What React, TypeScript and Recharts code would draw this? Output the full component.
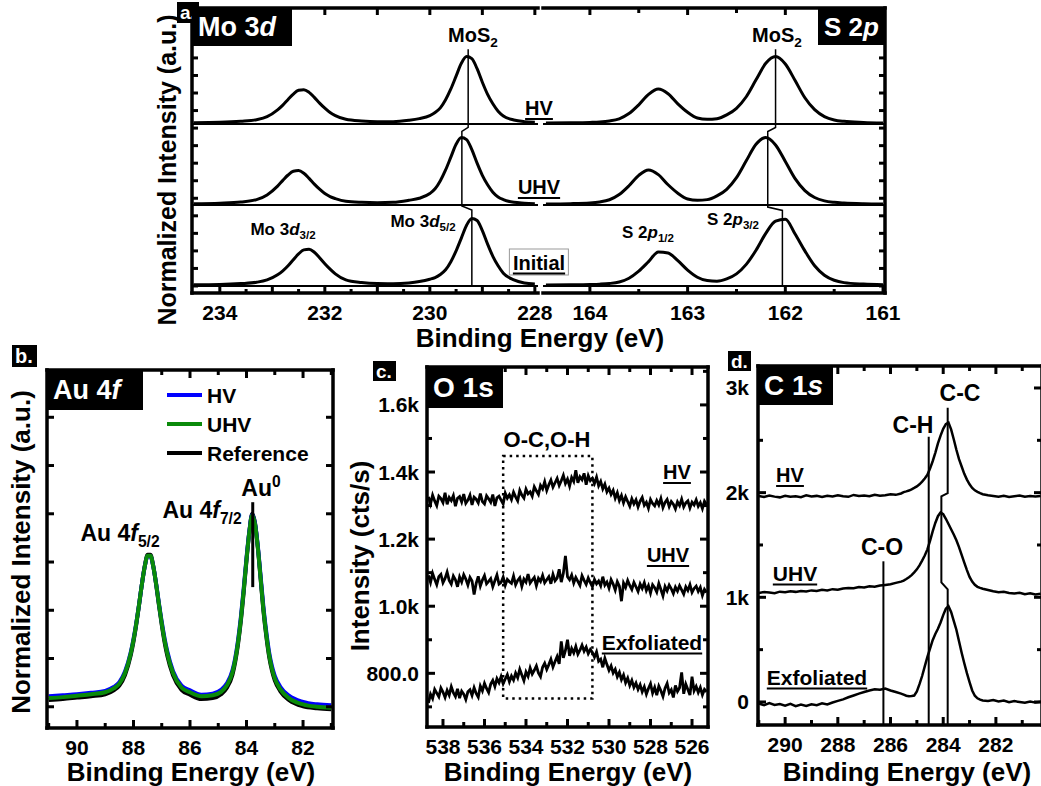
import React from 'react';
import { LineChart, Line, XAxis, YAxis, ReferenceLine, ReferenceArea } from 'recharts';

const FONT = '"Liberation Sans", Arial, Helvetica, sans-serif';

// ---------------- Panel a: Mo 3d ----------------
const moE = [234.5, 234.0, 233.6, 233.3, 233.1, 232.9, 232.8, 232.7, 232.6, 232.5, 232.4, 232.3, 232.2, 232.1, 232.0, 231.9, 231.8, 231.6, 231.3, 231.0, 230.7, 230.4, 230.2, 230.0, 229.9, 229.8, 229.7, 229.6, 229.5, 229.4, 229.3, 229.2, 229.1, 229.0, 228.9, 228.8, 228.7, 228.6, 228.4, 228.2, 228.0];
const moHV = [0.02, 0.025, 0.04, 0.065, 0.11, 0.21, 0.28, 0.365, 0.445, 0.5, 0.51, 0.47, 0.395, 0.31, 0.235, 0.17, 0.125, 0.07, 0.045, 0.035, 0.035, 0.055, 0.08, 0.125, 0.17, 0.24, 0.36, 0.52, 0.71, 0.9, 1.0, 0.97, 0.82, 0.62, 0.44, 0.3, 0.19, 0.12, 0.06, 0.035, 0.025];
const moUHV = [0.02, 0.028, 0.045, 0.08, 0.15, 0.28, 0.365, 0.445, 0.5, 0.51, 0.47, 0.395, 0.31, 0.235, 0.17, 0.125, 0.095, 0.055, 0.04, 0.035, 0.04, 0.07, 0.1, 0.17, 0.24, 0.36, 0.52, 0.71, 0.9, 1.0, 0.97, 0.82, 0.62, 0.44, 0.3, 0.19, 0.12, 0.08, 0.04, 0.028, 0.02];
const moInit = [0.018, 0.022, 0.035, 0.055, 0.09, 0.165, 0.225, 0.3, 0.39, 0.475, 0.535, 0.545, 0.5, 0.42, 0.33, 0.25, 0.18, 0.09, 0.05, 0.035, 0.033, 0.045, 0.065, 0.1, 0.125, 0.17, 0.24, 0.36, 0.52, 0.71, 0.9, 1.0, 0.97, 0.82, 0.62, 0.44, 0.3, 0.19, 0.09, 0.045, 0.03];
const moStepE = [229.27, 229.27, 229.39, 229.39, 229.2, 229.2];
const moStepY = [3.51, 2.35, 2.29, 1.185, 1.126, -0.01];

// ---------------- Panel a: S 2p ----------------
const sE = [164.45, 164.2, 164.0, 163.9, 163.8, 163.7, 163.6, 163.5, 163.4, 163.3, 163.2, 163.1, 163.0, 162.9, 162.8, 162.7, 162.6, 162.5, 162.4, 162.3, 162.2, 162.1, 162.0, 161.9, 161.8, 161.7, 161.6, 161.5, 161.4, 161.2, 161.0];
const sHV = [0.015, 0.018, 0.024, 0.03, 0.045, 0.078, 0.155, 0.285, 0.44, 0.52, 0.45, 0.3, 0.175, 0.09, 0.07, 0.08, 0.135, 0.233, 0.405, 0.655, 0.9, 1.0, 0.89, 0.645, 0.39, 0.213, 0.111, 0.061, 0.04, 0.024, 0.016];
const sUHV = [0.016, 0.02, 0.03, 0.045, 0.078, 0.155, 0.285, 0.44, 0.52, 0.45, 0.3, 0.175, 0.09, 0.07, 0.08, 0.135, 0.233, 0.405, 0.655, 0.9, 1.0, 0.89, 0.645, 0.39, 0.213, 0.111, 0.061, 0.04, 0.03, 0.02, 0.016];
const sInit = [0.014, 0.017, 0.022, 0.027, 0.037, 0.06, 0.115, 0.22, 0.36, 0.505, 0.49, 0.375, 0.235, 0.13, 0.08, 0.07, 0.105, 0.18, 0.32, 0.53, 0.78, 0.96, 0.99, 0.77, 0.52, 0.3, 0.16, 0.085, 0.05, 0.028, 0.018];
const sStepE = [162.1, 162.1, 162.18, 162.18, 162.03, 162.03];
const sStepY = [3.51, 2.35, 2.29, 1.17, 1.12, -0.01];

// stacking offsets (normalized units) for HV / UHV / Initial
const offHV = 2.4;
const offUHV = 1.2;
const offInit = 0;

const moXTicks = [228, 228.5, 229, 229.5, 230, 230.5, 231, 231.5, 232, 232.5, 233, 233.5, 234];
const sXTicks = [161, 161.5, 162, 162.5, 163, 163.5, 164];
const aYTicks = [0, 0.26, 0.52, 0.78, 1.04, 1.3, 1.56, 1.82, 2.08, 2.34, 2.6, 2.86, 3.12, 3.38, 3.64, 3.9];

// ---------------- Panel b: Au 4f ----------------
const auE = [91.0, 90.5, 90.0, 89.5, 89.0, 88.7, 88.5, 88.3, 88.1, 88.0, 87.9, 87.8, 87.7, 87.6, 87.5, 87.4, 87.3, 87.2, 87.1, 87.0, 86.9, 86.8, 86.6, 86.3, 86.0, 85.6, 85.2, 84.9, 84.7, 84.5, 84.4, 84.3, 84.2, 84.1, 84.0, 83.9, 83.8, 83.7, 83.6, 83.5, 83.4, 83.3, 83.2, 83.1, 83.0, 82.8, 82.5, 82.0, 81.5, 81.0];
const auHV = [0.66, 0.68, 0.7, 0.73, 0.77, 0.85, 0.95, 1.17, 1.56, 1.84, 2.18, 2.57, 2.99, 3.35, 3.56, 3.56, 3.35, 3.0, 2.59, 2.2, 1.86, 1.58, 1.18, 0.88, 0.78, 0.69, 0.71, 0.79, 0.92, 1.19, 1.45, 1.82, 2.3, 2.89, 3.53, 4.08, 4.42, 4.24, 3.77, 3.14, 2.5, 1.99, 1.57, 1.28, 1.08, 0.85, 0.67, 0.54, 0.49, 0.47];
const auUHV = [0.62, 0.64, 0.67, 0.7, 0.74, 0.82, 0.92, 1.14, 1.54, 1.82, 2.17, 2.57, 2.99, 3.35, 3.57, 3.57, 3.35, 2.99, 2.57, 2.17, 1.82, 1.54, 1.14, 0.84, 0.74, 0.66, 0.68, 0.75, 0.88, 1.15, 1.41, 1.78, 2.26, 2.85, 3.5, 4.06, 4.41, 4.22, 3.74, 3.1, 2.45, 1.94, 1.52, 1.23, 1.03, 0.8, 0.62, 0.49, 0.44, 0.42];
const auRef = [0.58, 0.6, 0.63, 0.66, 0.7, 0.78, 0.88, 1.1, 1.5, 1.79, 2.15, 2.56, 2.99, 3.36, 3.59, 3.59, 3.36, 2.98, 2.55, 2.14, 1.78, 1.49, 1.09, 0.79, 0.69, 0.6, 0.62, 0.7, 0.83, 1.1, 1.37, 1.74, 2.22, 2.82, 3.48, 4.06, 4.44, 4.25, 3.74, 3.08, 2.42, 1.9, 1.48, 1.19, 0.99, 0.76, 0.58, 0.45, 0.41, 0.39];
const auMarkE = [83.78, 83.78];
const auMarkY = [4.68, 2.92];
const auXTicks = [81, 82, 83, 84, 85, 86, 87, 88, 89, 90, 91];
const auYTicks = [0.44, 1.44, 2.44, 3.44, 4.44, 5.44, 6.44];

// ---------------- Panel c: O 1s ----------------
const oE = [
  538.7, 538.6, 538.5, 538.4, 538.3, 538.2, 538.1, 538.0, 537.9, 537.8,
  537.7, 537.6, 537.5, 537.4, 537.3, 537.2, 537.1, 537.0, 536.9, 536.8,
  536.7, 536.6, 536.5, 536.4, 536.3, 536.2, 536.1, 536.0, 535.9, 535.8,
  535.7, 535.6, 535.5, 535.4, 535.3, 535.2, 535.1, 535.0, 534.9, 534.8,
  534.7, 534.6, 534.5, 534.4, 534.3, 534.2, 534.1, 534.0, 533.9, 533.8,
  533.7, 533.6, 533.5, 533.4, 533.3, 533.2, 533.1, 533.0, 532.9, 532.8,
  532.7, 532.6, 532.5, 532.4, 532.3, 532.2, 532.1, 532.0, 531.9, 531.8,
  531.7, 531.6, 531.5, 531.4, 531.3, 531.2, 531.1, 531.0, 530.9, 530.8,
  530.7, 530.6, 530.5, 530.4, 530.3, 530.2, 530.1, 530.0, 529.9, 529.8,
  529.7, 529.6, 529.5, 529.4, 529.3, 529.2, 529.1, 529.0, 528.9, 528.8,
  528.7, 528.6, 528.5, 528.4, 528.3, 528.2, 528.1, 528.0, 527.9, 527.8,
  527.7, 527.6, 527.5, 527.4, 527.3, 527.2, 527.1, 527.0, 526.9, 526.8,
  526.7, 526.6, 526.5, 526.4, 526.3, 526.2, 526.1, 526.0, 525.9, 525.8,
  525.7, 525.6, 525.5, 525.4, 525.3,
];
const oHV = [
  1326, 1305, 1331, 1314, 1300, 1328, 1321, 1309, 1338, 1304,
  1324, 1315, 1330, 1298, 1322, 1327, 1311, 1334, 1307, 1316,
  1331, 1302, 1325, 1319, 1308, 1336, 1312, 1305, 1329, 1320,
  1310, 1333, 1299, 1323, 1328, 1316, 1305, 1337, 1322, 1332,
  1318, 1340, 1326, 1314, 1345, 1331, 1322, 1349, 1335, 1341,
  1328, 1356, 1344, 1333, 1360, 1350, 1371, 1345, 1362, 1376,
  1355, 1368, 1381, 1360, 1374, 1390, 1366, 1379, 1358, 1384,
  1372, 1405, 1368, 1386, 1377, 1396, 1362, 1389, 1374, 1381,
  1366, 1385, 1359, 1372, 1350, 1364, 1341, 1352, 1333, 1345,
  1322, 1338, 1315, 1330, 1308, 1326, 1312, 1298, 1320, 1305,
  1317, 1296, 1313, 1324, 1301, 1310, 1292, 1318, 1306, 1299,
  1315, 1302, 1321, 1294, 1309, 1318, 1297, 1312, 1304, 1290,
  1311, 1300, 1319, 1296, 1308, 1314, 1293, 1310, 1302, 1317,
  1298, 1309, 1291, 1313, 1303,
];
const oUHV = [
  1092, 1071, 1098, 1080, 1064, 1088, 1095, 1070, 1083, 1102,
  1077, 1066, 1090, 1079, 1058, 1087, 1072, 1094, 1081, 1063,
  1086, 1075, 1035, 1068, 1089, 1060, 1078, 1091, 1067, 1074,
  1082, 1058, 1076, 1093, 1066, 1071, 1087, 1062, 1080, 1073,
  1068, 1090, 1064, 1077, 1085, 1059, 1081, 1072, 1096, 1069,
  1078, 1086, 1061, 1083, 1074, 1092, 1070, 1079, 1088, 1067,
  1095, 1076, 1084, 1110, 1072, 1098, 1150, 1088, 1079, 1093,
  1069, 1086, 1074, 1062, 1091, 1077, 1065, 1084, 1070, 1058,
  1080, 1067, 1075, 1061, 1088, 1063, 1072, 1054, 1079, 1066,
  1048, 1073, 1060, 1015, 1069, 1056, 1077, 1062, 1050, 1071,
  1058, 1044, 1066, 1053, 1070, 1047, 1061, 1039, 1064, 1055,
  1042, 1068, 1050, 1031, 1059, 1046, 1063, 1052, 1038, 1057,
  1045, 1061, 1049, 1036, 1058, 1047, 1064, 1041, 1053, 1060,
  1044, 1056, 1032, 1050, 1041,
];
const oExf = [
  712, 738, 725, 752, 741, 730, 756, 744, 728, 749,
  735, 760, 742, 731, 754, 726, 747, 738, 722, 745,
  751, 734, 757, 740, 729, 762, 748, 770, 755, 743,
  768, 779, 761, 784, 772, 790, 769, 783, 796, 775,
  792, 780, 801, 787, 812, 795, 778, 804, 791, 816,
  798, 809, 822, 801, 790, 818, 830, 812, 826, 842,
  819, 835, 850, 828, 895, 846, 868, 900, 852, 874,
  861, 880, 857, 869, 884, 866, 878, 859, 871, 862,
  848, 864, 836, 842, 818, 845, 826, 809, 822, 801,
  812, 790, 803, 781, 795, 772, 786, 764, 779, 758,
  771, 752, 766, 745, 760, 738, 755, 769, 741, 758,
  735, 762, 748, 731, 756, 770, 742, 751, 728, 764,
  746, 757, 803, 739, 768, 752, 735, 790, 748, 761,
  743, 758, 736, 752, 745,
];
const oBoxE = [535.1, 530.8];
const oBoxY = [725, 1448];
const oXTicks = [526, 527, 528, 529, 530, 531, 532, 533, 534, 535, 536, 537, 538];
const oYTicks = [700, 800, 900, 1000, 1100, 1200, 1300, 1400, 1500, 1600, 1700];
const oYLabels: Record<number, string> = { 800: '800.0', 1000: '1.0k', 1200: '1.2k', 1400: '1.4k', 1600: '1.6k' };

// ---------------- Panel d: C 1s ----------------
const cE = [
  291.0, 290.8, 290.6, 290.4, 290.2, 290.0, 289.8, 289.6, 289.4, 289.2, 289.0, 288.8, 288.6, 288.4, 288.2, 288.0, 287.8, 287.6, 287.4, 287.2, 287.0, 286.8, 286.6, 286.4, 286.2, 286.0, 285.8, 285.6,
  285.5, 285.4, 285.3, 285.2, 285.1, 285.0, 284.9, 284.8, 284.7, 284.6, 284.5, 284.4, 284.3, 284.2, 284.1, 284.0, 283.9, 283.8, 283.7, 283.6, 283.5, 283.4, 283.3, 283.2, 283.1, 283.0, 282.9, 282.8, 282.7, 282.6, 282.5,
  282.3, 282.1, 281.9, 281.7, 281.5, 281.3, 281.1, 280.9, 280.7, 280.5, 280.3,
];
const cHV = [
  1968, 1958, 1972, 1962, 1955, 1970, 1961, 1966, 1957, 1974, 1963, 1969, 1958, 1971, 1964, 1975, 1966, 1960, 1978, 1968, 1973, 1965, 1980, 1971, 1976, 1985, 1979, 1992,
  2005, 2012, 2020, 2032, 2045, 2060, 2080, 2105, 2135, 2170, 2230, 2300, 2380, 2470, 2545, 2610, 2655, 2670, 2605, 2510, 2410, 2320, 2250, 2180, 2125, 2080, 2045, 2022, 2008, 1995, 1985,
  1975, 1968, 1961, 1970, 1959, 1966, 1972, 1960, 1967, 1963, 1969,
];
const cUHV = [
  1042, 1050, 1046, 1040, 1054, 1049, 1058, 1052, 1061, 1055, 1066, 1060, 1071, 1066, 1078, 1072, 1084, 1090, 1086, 1098, 1094, 1105, 1101, 1112, 1118, 1125, 1138, 1150,
  1160, 1175, 1192, 1212, 1238, 1267, 1305, 1350, 1400, 1458, 1540, 1630, 1710, 1775, 1810, 1795, 1750, 1700, 1650, 1600, 1545, 1480, 1405, 1331, 1260, 1195, 1150, 1120, 1100, 1090, 1082,
  1070, 1058, 1048, 1052, 1041, 1036, 1044, 1030, 1038, 1027, 1033,
];
const cExf = [
  -15, -30, -10, -28, -20, -35, -18, -40, -25, -38, -22, -30, -12, -24, -5, 10, 25, 45, 62, 80, 95, 110, 122, 118, 128, 110, 95, 80,
  70, 60, 55, 58, 62, 100, 170, 248, 340, 430, 510, 590, 650, 700, 760, 830, 890, 915, 860, 775, 690, 580, 470, 370, 275, 190, 110, 60, 35, 22, 15,
  10, 18, 5, 14, -2, 8, 0, -8, 4, -6, 2,
];
const ccE = [283.83, 283.83, 284.07, 284.07, 283.83, 283.83];
const ccY = [2812, 1995, 1965, 1143, 1076, -220];
const chE = [284.55, 284.55];
const chY = [2535, -220];
const coE = [286.27, 286.27];
const coY = [1344, -220];
const cXTicks = [281, 282, 283, 284, 285, 286, 287, 288, 289, 290, 291];
const cYTicks = [0, 500, 1000, 1500, 2000, 2500, 3000];
const cYLabels: Record<number, string> = { 0: '0', 1000: '1k', 2000: '2k', 3000: '3k' };

// ---------------- helpers ----------------
type P = { x: number; y: number };
function toPts(xs: number[], ys: number[], off: number = 0): P[] {
  return xs.map((x, i) => ({ x, y: ys[i] + off }));
}
const isInt = (v: number) => Math.abs(v - Math.round(v)) < 1e-6;
const isEven = (v: number) => isInt(v) && Math.round(v) % 2 === 0;
const always = () => true;

interface TickOpt {
  side: 'bottom' | 'top' | 'left' | 'right';
  major: (v: number) => boolean;
  label?: (v: number) => string;
  majorLen?: number;
  minorLen?: number;
  gap?: number;
  fontSize?: number;
}
function mkTick(o: TickOpt) {
  return (p: any) => {
    const x = Number(p.x);
    const y = Number(p.y);
    const v = Number(p.payload && p.payload.value);
    const len = o.major(v) ? (o.majorLen ?? 7) : (o.minorLen ?? 4);
    let x2 = x;
    let y2 = y;
    if (o.side === 'bottom') y2 = y - len;
    else if (o.side === 'top') y2 = y + len;
    else if (o.side === 'left') x2 = x + len;
    else x2 = x - len;
    const lab = o.label ? o.label(v) : '';
    const fs = o.fontSize ?? 21;
    const gap = o.gap ?? 19;
    return (
      <g>
        <line x1={x} y1={y} x2={x2} y2={y2} stroke="#000" strokeWidth={3} />
        {lab && o.side === 'bottom' ? (
          <text x={x} y={y + gap} textAnchor="middle" dominantBaseline="central" fontFamily={FONT} fontWeight={700} fontSize={fs} fill="#000">{lab}</text>
        ) : null}
        {lab && o.side === 'left' ? (
          <text x={x - gap} y={y} textAnchor="end" dominantBaseline="central" fontFamily={FONT} fontWeight={700} fontSize={fs} fill="#000">{lab}</text>
        ) : null}
      </g>
    );
  };
}

const AX = { stroke: '#000', strokeWidth: 3.5, strokeLinecap: 'square' as const };

function Plot({ x, y, w, h, l, r, t, b, ml = 0, mr = 0, children }: any) {
  const W = w + l + r + ml + mr;
  const H = h + t + b;
  return (
    <div style={{ position: 'absolute', left: x - l - ml, top: y - t, width: W, height: H }}>
      <LineChart width={W} height={H} margin={{ top: 0, right: mr, bottom: 0, left: ml }}>
        {children}
      </LineChart>
    </div>
  );
}

function T({ x, y, s = 20, u = false, rot = false, children, style }: any) {
  return (
    <div
      style={{
        position: 'absolute', left: x, top: y,
        transform: `translate(-50%, -50%)${rot ? ' rotate(-90deg)' : ''}`,
        fontFamily: FONT, fontWeight: 700, fontSize: s, lineHeight: 1, whiteSpace: 'nowrap', color: '#000',
        textDecoration: u ? 'underline' : undefined,
        textDecorationThickness: u ? '2px' : undefined,
        textUnderlineOffset: u ? '3px' : undefined,
        ...style,
      }}
    >
      {children}
    </div>
  );
}

function BoxT({ x, y, w, h, s = 27, pad = 6, children }: any) {
  return (
    <div style={{ position: 'absolute', left: x, top: y, width: w, height: h, background: '#000', color: '#fff', fontFamily: FONT, fontWeight: 700, fontSize: s, lineHeight: 1, display: 'flex', alignItems: 'center', paddingLeft: pad, boxSizing: 'border-box', whiteSpace: 'nowrap' }}>
      {children}
    </div>
  );
}

const Sub = ({ children }: any) => <span style={{ fontSize: '0.68em', verticalAlign: '-0.35em' }}>{children}</span>;
const Sup = ({ children }: any) => <span style={{ fontSize: '0.68em', verticalAlign: '0.6em' }}>{children}</span>;

const lineProps = { dot: false, activeDot: false, isAnimationActive: false, dataKey: 'y' } as const;

export default function App() {
  return (
    <div style={{ position: 'absolute', left: 0, top: 0, width: 1041, height: 786, overflow: 'hidden', background: '#fff', fontFamily: FONT }}>
      {/* ---- Panel a, left (Mo 3d) ---- */}
      <Plot x={192} y={8} w={346} h={285} l={30} r={0} mr={30} t={10} b={45}>
        <XAxis xAxisId={0} type="number" dataKey="x" domain={[227.94, 234.53]} reversed allowDataOverflow ticks={moXTicks} interval={0} tickLine={false} tickSize={0} tickMargin={0} axisLine={AX} height={45}
          tick={mkTick({ side: 'bottom', major: isInt, label: (v) => (isEven(v) ? String(v) : ''), majorLen: 7, minorLen: 4 })} />
        <XAxis xAxisId="t" orientation="top" type="number" dataKey="x" domain={[227.94, 234.53]} reversed allowDataOverflow ticks={moXTicks} interval={0} tickLine={false} tickSize={0} tickMargin={0} axisLine={AX} height={10}
          tick={mkTick({ side: 'top', major: isInt, majorLen: 7, minorLen: 0 })} />
        <YAxis yAxisId={0} type="number" domain={[-0.104, 4.12]} allowDataOverflow ticks={aYTicks} interval={0} tickLine={false} tickSize={0} tickMargin={0} axisLine={AX} width={30}
          tick={mkTick({ side: 'left', major: always, majorLen: 6 })} />
        <ReferenceLine y={offHV} stroke="#000" strokeWidth={2} />
        <ReferenceLine y={offUHV} stroke="#000" strokeWidth={2} />
        <ReferenceLine y={offInit} stroke="#000" strokeWidth={2} />
        <Line {...lineProps} data={toPts(moE, moHV, offHV)} type="monotone" stroke="#000" strokeWidth={3} />
        <Line {...lineProps} data={toPts(moE, moUHV, offUHV)} type="monotone" stroke="#000" strokeWidth={3} />
        <Line {...lineProps} data={toPts(moE, moInit, offInit)} type="monotone" stroke="#000" strokeWidth={3} />
        <Line {...lineProps} data={toPts(moStepE, moStepY)} type="linear" stroke="#000" strokeWidth={1.5} />
      </Plot>

      {/* ---- Panel a, right (S 2p) ---- */}
      <Plot x={543} y={8} w={342} h={285} l={0} ml={30} r={20} t={10} b={45}>
        <XAxis xAxisId={0} type="number" dataKey="x" domain={[160.98, 164.48]} reversed allowDataOverflow ticks={sXTicks} interval={0} tickLine={false} tickSize={0} tickMargin={0} axisLine={AX} height={45}
          tick={mkTick({ side: 'bottom', major: isInt, label: (v) => (isInt(v) ? String(v) : ''), majorLen: 7, minorLen: 4 })} />
        <XAxis xAxisId="t" orientation="top" type="number" dataKey="x" domain={[160.98, 164.48]} reversed allowDataOverflow ticks={sXTicks} interval={0} tickLine={false} tickSize={0} tickMargin={0} axisLine={AX} height={10}
          tick={mkTick({ side: 'top', major: isInt, majorLen: 7, minorLen: 5 })} />
        <YAxis yAxisId={0} orientation="right" type="number" domain={[-0.104, 4.12]} allowDataOverflow ticks={aYTicks} interval={0} tickLine={false} tickSize={0} tickMargin={0} axisLine={AX} width={20}
          tick={mkTick({ side: 'right', major: always, majorLen: 6 })} />
        <ReferenceLine y={offHV} stroke="#000" strokeWidth={2} />
        <ReferenceLine y={offUHV} stroke="#000" strokeWidth={2} />
        <ReferenceLine y={offInit} stroke="#000" strokeWidth={2} />
        <Line {...lineProps} data={toPts(sE, sHV, offHV)} type="monotone" stroke="#000" strokeWidth={3} />
        <Line {...lineProps} data={toPts(sE, sUHV, offUHV)} type="monotone" stroke="#000" strokeWidth={3} />
        <Line {...lineProps} data={toPts(sE, sInit, offInit)} type="monotone" stroke="#000" strokeWidth={3} />
        <Line {...lineProps} data={toPts(sStepE, sStepY)} type="linear" stroke="#000" strokeWidth={1.5} />
      </Plot>

      {/* ---- Panel b (Au 4f) ---- */}
      <Plot x={47} y={370} w={286} h={358} l={10} r={10} t={10} b={50}>
        <XAxis xAxisId={0} type="number" dataKey="x" domain={[80.94, 91.06]} reversed allowDataOverflow ticks={auXTicks} interval={0} tickLine={false} tickSize={0} tickMargin={0} axisLine={AX} height={50}
          tick={mkTick({ side: 'bottom', major: isEven, label: (v) => (isEven(v) && v > 81 && v < 91 ? String(v) : ''), majorLen: 8, minorLen: 5 })} />
        <XAxis xAxisId="t" orientation="top" type="number" dataKey="x" domain={[80.94, 91.06]} reversed allowDataOverflow ticks={auXTicks} interval={0} tickLine={false} tickSize={0} tickMargin={0} axisLine={AX} height={10}
          tick={mkTick({ side: 'top', major: isEven, majorLen: 8, minorLen: 5 })} />
        <YAxis yAxisId={0} type="number" domain={[0, 7.42]} allowDataOverflow ticks={auYTicks} interval={0} tickLine={false} tickSize={0} tickMargin={0} axisLine={AX} width={10}
          tick={mkTick({ side: 'left', major: always, majorLen: 7 })} />
        <YAxis yAxisId="r" orientation="right" type="number" domain={[0, 7.42]} allowDataOverflow ticks={auYTicks} interval={0} tickLine={false} tickSize={0} tickMargin={0} axisLine={AX} width={10}
          tick={mkTick({ side: 'right', major: always, majorLen: 7 })} />
        <Line {...lineProps} data={toPts(auE, auRef)} type="monotone" stroke="#000" strokeWidth={4} />
        <Line {...lineProps} data={toPts(auE, auHV)} type="monotone" stroke="#0000ff" strokeWidth={4} />
        <Line {...lineProps} data={toPts(auE, auUHV)} type="monotone" stroke="#0a8a0a" strokeWidth={4} />
        <Line {...lineProps} data={toPts(auMarkE, auMarkY)} type="linear" stroke="#000" strokeWidth={3} />
      </Plot>

      {/* ---- Panel c (O 1s) ---- */}
      <Plot x={427} y={367} w={281} h={360} l={80} r={10} t={10} b={50}>
        <XAxis xAxisId={0} type="number" dataKey="x" domain={[525.23, 538.77]} reversed allowDataOverflow ticks={oXTicks} interval={0} tickLine={false} tickSize={0} tickMargin={0} axisLine={AX} height={50}
          tick={mkTick({ side: 'bottom', major: isEven, label: (v) => (isEven(v) ? String(v) : ''), majorLen: 8, minorLen: 5 })} />
        <XAxis xAxisId="t" orientation="top" type="number" dataKey="x" domain={[525.23, 538.77]} reversed allowDataOverflow ticks={oXTicks} interval={0} tickLine={false} tickSize={0} tickMargin={0} axisLine={AX} height={10}
          tick={mkTick({ side: 'top', major: isEven, majorLen: 8, minorLen: 5 })} />
        <YAxis yAxisId={0} type="number" domain={[640, 1713]} allowDataOverflow ticks={oYTicks} interval={0} tickLine={false} tickSize={0} tickMargin={0} axisLine={AX} width={80}
          tick={mkTick({ side: 'left', major: (v) => !!oYLabels[v], label: (v) => oYLabels[v] || '', majorLen: 8, minorLen: 5, gap: 8 })} />
        <YAxis yAxisId="r" orientation="right" type="number" domain={[640, 1713]} allowDataOverflow ticks={oYTicks} interval={0} tickLine={false} tickSize={0} tickMargin={0} axisLine={AX} width={10}
          tick={mkTick({ side: 'right', major: (v) => !!oYLabels[v], majorLen: 8, minorLen: 5 })} />
        <ReferenceArea x1={oBoxE[0]} x2={oBoxE[1]} y1={oBoxY[0]} y2={oBoxY[1]} fill="none" fillOpacity={0} stroke="#000" strokeWidth={2.5} strokeDasharray="2.5 4" ifOverflow="visible" />
        <Line {...lineProps} data={toPts(oE, oHV)} type="linear" stroke="#000" strokeWidth={2.8} />
        <Line {...lineProps} data={toPts(oE, oUHV)} type="linear" stroke="#000" strokeWidth={2.8} />
        <Line {...lineProps} data={toPts(oE, oExf)} type="linear" stroke="#000" strokeWidth={2.8} />
      </Plot>

      {/* ---- Panel d (C 1s) ---- */}
      <Plot x={758} y={366} w={284} h={359} l={40} r={10} t={10} b={50}>
        <XAxis xAxisId={0} type="number" dataKey="x" domain={[280.25, 291.03]} reversed allowDataOverflow ticks={cXTicks} interval={0} tickLine={false} tickSize={0} tickMargin={0} axisLine={AX} height={50}
          tick={mkTick({ side: 'bottom', major: isEven, label: (v) => (isEven(v) ? String(v) : ''), majorLen: 8, minorLen: 5 })} />
        <XAxis xAxisId="t" orientation="top" type="number" dataKey="x" domain={[280.25, 291.03]} reversed allowDataOverflow ticks={cXTicks} interval={0} tickLine={false} tickSize={0} tickMargin={0} axisLine={AX} height={10}
          tick={mkTick({ side: 'top', major: isEven, majorLen: 8, minorLen: 5 })} />
        <YAxis yAxisId={0} type="number" domain={[-220, 3210]} allowDataOverflow ticks={cYTicks} interval={0} tickLine={false} tickSize={0} tickMargin={0} axisLine={AX} width={40}
          tick={mkTick({ side: 'left', major: (v) => !!cYLabels[v], label: (v) => cYLabels[v] || '', majorLen: 8, minorLen: 5, gap: 9 })} />
        <YAxis yAxisId="r" orientation="right" type="number" domain={[-220, 3210]} allowDataOverflow ticks={cYTicks} interval={0} tickLine={false} tickSize={0} tickMargin={0} axisLine={AX} width={10}
          tick={mkTick({ side: 'right', major: (v) => !!cYLabels[v], majorLen: 8, minorLen: 5 })} />
        <Line {...lineProps} data={toPts(cE, cHV)} type="linear" stroke="#000" strokeWidth={2.5} />
        <Line {...lineProps} data={toPts(cE, cUHV)} type="linear" stroke="#000" strokeWidth={2.5} />
        <Line {...lineProps} data={toPts(cE, cExf)} type="linear" stroke="#000" strokeWidth={2.5} />
        <Line {...lineProps} data={toPts(coE, coY)} type="linear" stroke="#000" strokeWidth={2} />
        <Line {...lineProps} data={toPts(chE, chY)} type="linear" stroke="#000" strokeWidth={2} />
        <Line {...lineProps} data={toPts(ccE, ccY)} type="linear" stroke="#000" strokeWidth={2} />
      </Plot>

      {/* ---------- text overlay ---------- */}
      {/* panel a */}
      <BoxT x={177} y={2} w={22} h={21} s={19} pad={3}>a.</BoxT>
      <BoxT x={192} y={8} w={100} h={38} s={27}>Mo 3<i>d</i></BoxT>
      <BoxT x={818} y={8} w={67} h={37} s={26}>S 2<i>p</i></BoxT>
      <T x={473} y={37} s={20}>MoS<Sub>2</Sub></T>
      <T x={777} y={37} s={20}>MoS<Sub>2</Sub></T>
      <T x={539} y={108} s={20} u>HV</T>
      <T x={539} y={187} s={20} u>UHV</T>
      <T x={539} y={262} s={20} u style={{ border: '1px solid #999', padding: '3px 3px 2px 3px' }}>Initial</T>
      <T x={283} y={231} s={17}>Mo 3<i>d</i><Sub>3/2</Sub></T>
      <T x={423} y={223} s={17}>Mo 3<i>d</i><Sub>5/2</Sub></T>
      <T x={648} y={234} s={17}>S 2<i>p</i><Sub>1/2</Sub></T>
      <T x={733} y={221} s={17}>S 2<i>p</i><Sub>3/2</Sub></T>
      <T x={167} y={170} s={25} rot>Normalized Intensity (a.u.)</T>
      <T x={540} y={338} s={26}>Binding Energy (eV)</T>

      {/* panel b */}
      <BoxT x={12} y={345} w={25} h={22} s={20} pad={3}>b.</BoxT>
      <BoxT x={47} y={370} w={96} h={40} s={27}>Au 4<i>f</i></BoxT>
      <div style={{ position: 'absolute', left: 167, top: 393, width: 35, height: 4, background: '#0000ff' }} />
      <div style={{ position: 'absolute', left: 167, top: 422, width: 35, height: 4, background: '#0a8a0a' }} />
      <div style={{ position: 'absolute', left: 167, top: 451, width: 35, height: 4, background: '#000' }} />
      <T x={207} y={395} s={21} style={{ transform: 'translate(0, -50%)' }}>HV</T>
      <T x={207} y={424} s={21} style={{ transform: 'translate(0, -50%)' }}>UHV</T>
      <T x={207} y={453} s={21} style={{ transform: 'translate(0, -50%)' }}>Reference</T>
      <T x={120} y={536} s={23}>Au 4<i>f</i><Sub>5/2</Sub></T>
      <T x={202} y={513} s={23}>Au 4<i>f</i><Sub>7/2</Sub></T>
      <T x={261} y={487} s={23}>Au<Sup>0</Sup></T>
      <T x={21} y={552} s={26} rot>Normalized Intensity (a.u.)</T>
      <T x={191} y={772} s={26}>Binding Energy (eV)</T>

      {/* panel c */}
      <BoxT x={373} y={361} w={23} h={20} s={19} pad={3}>c.</BoxT>
      <BoxT x={427} y={367} w={76} h={41} s={28}>O 1s</BoxT>
      <T x={547} y={440} s={22}>O-C,O-H</T>
      <T x={677} y={472} s={20} u>HV</T>
      <T x={668} y={555} s={20} u>UHV</T>
      <T x={652} y={642} s={21} u>Exfoliated</T>
      <T x={360} y={556} s={26} rot>Intensity (cts/s)</T>
      <T x={568} y={772} s={26}>Binding Energy (eV)</T>

      {/* panel d */}
      <BoxT x={728} y={351} w={23} h={20} s={19} pad={3}>d.</BoxT>
      <BoxT x={758} y={366} w={75} h={39} s={28}>C 1<i>s</i></BoxT>
      <T x={960} y={393} s={23}>C-C</T>
      <T x={913} y={425} s={23}>C-H</T>
      <T x={882} y={547} s={23}>C-O</T>
      <T x={790} y={475} s={20} u>HV</T>
      <T x={795} y={573} s={21} u>UHV</T>
      <T x={817} y={677} s={21} u>Exfoliated</T>
      <T x={907} y={772} s={26}>Binding Energy (eV)</T>
    </div>
  );
}
